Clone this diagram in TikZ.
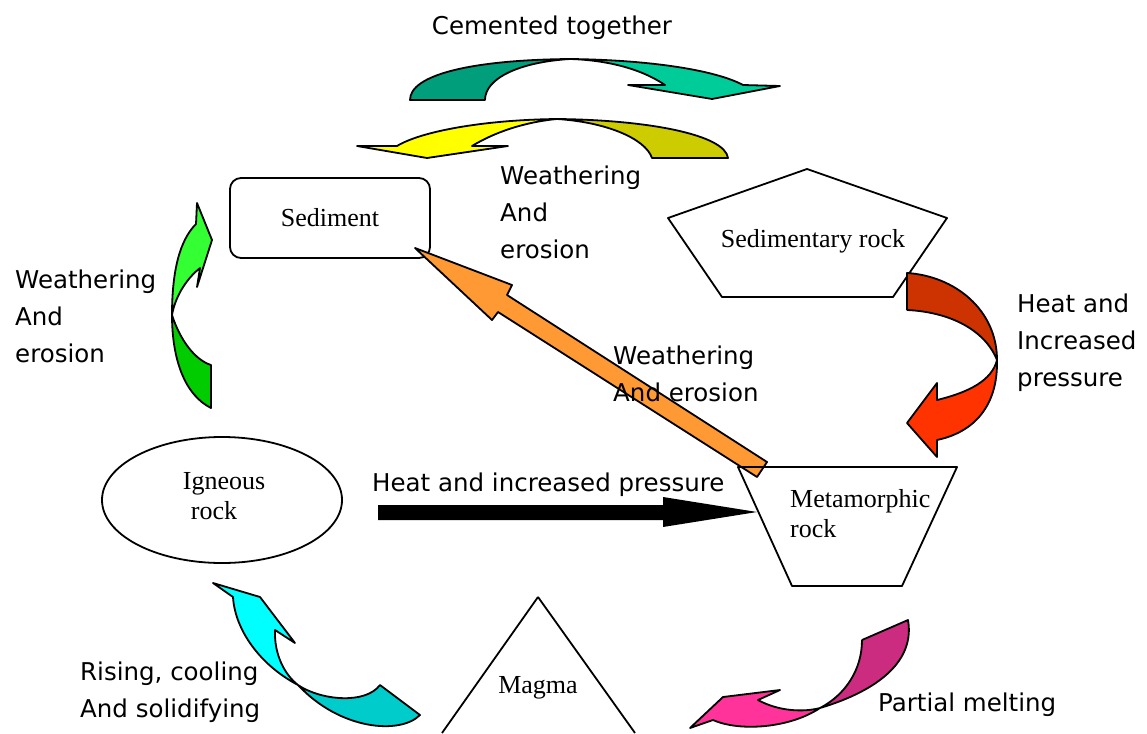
\documentclass[tikz,border=0pt]{standalone}
\usepackage{fontspec}
\setmainfont{Liberation Serif}
\newfontfamily\labfont{DejaVu Sans}
\usetikzlibrary{shapes.geometric}

\definecolor{tealdark}{HTML}{009E7B}
\definecolor{teallight}{HTML}{00CC99}
\definecolor{yellowlight}{HTML}{FFFF00}
\definecolor{yellowdark}{HTML}{CCCC00}
\definecolor{greenlight}{HTML}{33FF33}
\definecolor{greendark}{HTML}{00CC00}
\definecolor{reddark}{HTML}{CC3300}
\definecolor{redlight}{HTML}{FF3300}
\definecolor{cyanlight}{HTML}{00FFFF}
\definecolor{cyandark}{HTML}{00CCCC}
\definecolor{pinkdark}{HTML}{CC2C7F}
\definecolor{pinklight}{HTML}{FF3399}
\definecolor{orangefill}{HTML}{FF9933}

\tikzset{
  outline/.style={draw=black, line width=1.8pt, line join=round},
  blockarrow/.style={outline},
  lbl/.style={font=\labfont\fontsize{24.5}{37}\selectfont, align=left, inner sep=0pt, anchor=base west},
  rocktext/.style={font=\fontsize{26}{30}\selectfont, inner sep=0pt},
}

\begin{document}
\begin{tikzpicture}[x=1pt, y=-1pt]
\useasboundingbox (0,0) rectangle (1147,733);

% ---- rock stages ----
\node[outline, rectangle, rounded corners=11pt, minimum width=200pt, minimum height=80pt,
      rocktext] (sediment) at (330,218) {Sediment};

\draw[outline] (807,169) -- (947,218) -- (893,297) -- (722,297) -- (668,218) -- cycle;
\node[rocktext] (sedrock) at (813,241) {Sedimentary rock};

\node[outline, ellipse, minimum width=240pt, minimum height=126pt] (igneous) at (222,500) {};
\node[rocktext, align=left] (ignlabel) at (224,496) {Igneous\\\hspace*{8pt}rock};

\draw[outline] (538,597) -- (442,733);
\draw[outline] (538,597) -- (635,733);
\node[rocktext] (magma) at (538,688) {Magma};

% ---- cementing (teal) ----
\fill[tealdark] (410,100) .. controls (410,75) and (470,60) .. (570,59)
  .. controls (520,62) and (485,78) .. (485,100) -- cycle;
\fill[teallight] (570,59) .. controls (650,60) and (715,70) .. (743,85)
  -- (780,86) -- (712,99) -- (628,85) -- (665,85)
  .. controls (640,68) and (605,60) .. (570,59) -- cycle;
\draw[outline] (410,100) .. controls (410,75) and (470,60) .. (570,59)
  .. controls (650,60) and (715,70) .. (743,85)
  -- (780,86) -- (712,99) -- (628,85) -- (665,85)
  .. controls (640,68) and (605,60) .. (570,59)
  .. controls (520,62) and (485,78) .. (485,100) -- cycle;

% ---- weathering (yellow) ----
\fill[yellowdark] (557,119) .. controls (650,120) and (725,135) .. (728,158)
  -- (652,158) .. controls (645,138) and (605,122) .. (557,119) -- cycle;
\fill[yellowlight] (557,119) .. controls (480,120) and (420,132) .. (397,146)
  -- (357,146) -- (427,158) -- (508,146) -- (472,146)
  .. controls (495,132) and (525,122) .. (557,119) -- cycle;
\draw[outline] (728,158) .. controls (725,135) and (650,120) .. (557,119)
  .. controls (480,120) and (420,132) .. (397,146)
  -- (357,146) -- (427,158) -- (508,146) -- (472,146)
  .. controls (495,132) and (525,122) .. (557,119)
  .. controls (605,122) and (645,138) .. (652,158) -- cycle;

% ---- igneous -> sediment (green) ----
\fill[greendark] (172,315) .. controls (180,340) and (195,360) .. (211,365)
  -- (211,408) .. controls (185,395) and (172,360) .. (172,315) -- cycle;
\fill[greenlight] (172,315) .. controls (172,270) and (180,240) .. (196,224)
  -- (197,203) -- (212,240) -- (197,287) -- (200,268)
  .. controls (185,280) and (175,298) .. (172,315) -- cycle;
\draw[outline] (211,408) .. controls (185,395) and (172,360) .. (172,315)
  .. controls (172,270) and (180,240) .. (196,224)
  -- (197,203) -- (212,240) -- (197,287) -- (200,268)
  .. controls (185,280) and (175,298) .. (172,315)
  .. controls (180,340) and (195,360) .. (211,365) -- cycle;

% ---- sedimentary -> metamorphic (red) ----
\fill[reddark] (907,273) .. controls (955,276) and (997,310) .. (997,360)
  .. controls (985,330) and (950,312) .. (907,310) -- cycle;
\fill[redlight] (997,360) .. controls (998,405) and (975,432) .. (937,440)
  -- (937,457) -- (907,423) -- (937,383) -- (937,400)
  .. controls (970,392) and (992,380) .. (997,360) -- cycle;
\draw[outline] (907,310) -- (907,273) .. controls (955,276) and (997,310) .. (997,360)
  .. controls (998,405) and (975,432) .. (937,440)
  -- (937,457) -- (907,423) -- (937,383) -- (937,400)
  .. controls (970,392) and (992,380) .. (997,360)
  .. controls (985,330) and (950,312) .. (907,310);

% ---- magma -> igneous (cyan) ----
\fill[cyandark] (298,685) .. controls (320,700) and (365,705) .. (380,685)
  -- (420,715) .. controls (400,735) and (340,730) .. (298,685) -- cycle;
\fill[cyanlight] (213,583) -- (260,597) -- (295,643) -- (275,630)
  .. controls (274,655) and (285,675) .. (298,685)
  .. controls (260,665) and (235,630) .. (233,597) -- cycle;
\draw[outline] (213,583) -- (260,597) -- (295,643) -- (275,630)
  .. controls (274,655) and (285,675) .. (298,685)
  .. controls (320,700) and (365,705) .. (380,685)
  -- (420,715) .. controls (400,735) and (340,730) .. (298,685)
  .. controls (260,665) and (235,630) .. (233,597) -- cycle;

% ---- metamorphic -> magma (pink) ----
\fill[pinkdark] (820,708) .. controls (845,695) and (862,670) .. (862,640)
  -- (908,620) .. controls (915,660) and (880,690) .. (820,708) -- cycle;
\fill[pinklight] (820,708) .. controls (790,728) and (740,732) .. (713,720)
  -- (690,728) -- (723,697) -- (780,690) -- (758,700)
  .. controls (780,712) and (805,712) .. (820,708) -- cycle;
\draw[outline] (862,640) -- (908,620) .. controls (915,660) and (880,690) .. (820,708)
  .. controls (790,728) and (740,732) .. (713,720)
  -- (690,728) -- (723,697) -- (780,690) -- (758,700)
  .. controls (780,712) and (805,712) .. (820,708)
  .. controls (845,695) and (862,670) .. (862,640);

% ---- igneous -> metamorphic (black) ----
\fill[black] (378,505) -- (663,505) -- (663,497) -- (757,512) -- (663,527) -- (663,520) -- (378,520) -- cycle;

% ---- metamorphic -> sediment (orange) ----
\draw[blockarrow, fill=orangefill] (767,462) -- (507,295) -- (512,285) -- (415,248)
  -- (492,320) -- (498,312) -- (757,477) -- cycle;

% metamorphic rock outline over the arrow tail
\draw[outline] (738,467) -- (957,467) -- (902,586) -- (792,586) -- cycle;
\node[rocktext, align=left, anchor=north west] (metamorphic) at (790,489) {Metamorphic\\rock};

% ---- labels (anchored at the baseline of the last line) ----
\node[lbl, anchor=base] (lcement) at (552,35) {Cemented together};
\node[lbl] (lweath1) at (500,258) {Weathering\\And\\erosion};
\node[lbl] (lweath2) at (15,362) {Weathering\\And\\erosion};
\node[lbl] (lheat1) at (1017,386) {Heat and\\Increased\\pressure};
\node[lbl] (lweath3) at (613,401) {Weathering\\And erosion};
\node[lbl] (lheat2) at (372,491) {Heat and increased pressure};
\node[lbl] (lrise) at (80,717) {Rising, cooling\\And solidifying};
\node[lbl] (lmelt) at (878,711) {Partial melting};
\end{tikzpicture}
\end{document}
